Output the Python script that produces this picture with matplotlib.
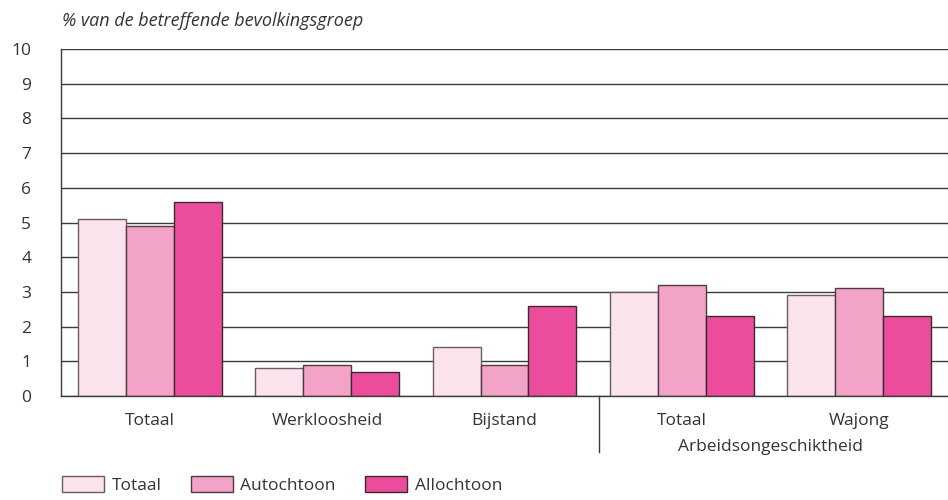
import matplotlib.pyplot as plt
import numpy as np
from matplotlib.patches import Patch

plt.rcParams["font.family"] = ["Open Sans", "DejaVu Sans"]

categories = ["Totaal", "Werkloosheid", "Bijstand", "Totaal", "Wajong"]
series_labels = ["Totaal", "Autochtoon", "Allochtoon"]
totaal = [5.1, 0.8, 1.4, 3.0, 2.9]
autochtoon = [4.9, 0.9, 0.9, 3.2, 3.1]
allochtoon = [5.6, 0.7, 2.6, 2.3, 2.3]
y_ticks = list(range(0, 11))
group_label = "Arbeidsongeschiktheid"
y_title = "% van de betreffende bevolkingsgroep"

COLORS = ["#fbe3ee", "#f2a3c7", "#ec4c9c"]
EDGES = ["#6e5a63", "#4d3a42", "#3a2a30"]
LINE = "#3c3c3c"
TEXT = "#333333"
FS = 12.5

fig = plt.figure(figsize=(9.48, 5.0), dpi=100)
ax = fig.add_axes([61 / 948, 1 - 396 / 500, 887 / 948, 347 / 500])

x = np.arange(len(categories))
width = 0.27
for i, values in enumerate([totaal, autochtoon, allochtoon]):
    ax.bar(
        x + (i - 1) * width,
        values,
        width,
        color=COLORS[i],
        edgecolor=EDGES[i],
        linewidth=1.0,
        zorder=3,
    )

ax.set_xlim(-0.5, len(categories) - 0.5)
ax.set_ylim(0, 10)
ax.set_yticks(y_ticks)
ax.set_yticklabels([str(t) for t in y_ticks], fontsize=FS, color=TEXT)
ax.tick_params(axis="y", length=0, pad=21.5)
ax.set_xticks(x)
ax.set_xticklabels(categories, fontsize=FS, color=TEXT)
ax.tick_params(axis="x", length=0, pad=12.5)
ax.yaxis.grid(True, color=LINE, linewidth=1.0, zorder=0)
ax.set_axisbelow(True)
for side in ("top", "right"):
    ax.spines[side].set_visible(False)
for side in ("left", "bottom"):
    ax.spines[side].set_color(LINE)
    ax.spines[side].set_linewidth(1.0)
    ax.spines[side].set_zorder(4)

# separator and group label under the last two categories
ax.plot([2.53, 2.53], [0, -1.6], color=LINE, linewidth=1.0, clip_on=False)
ax.text(3.5, -1.46, group_label, ha="center", va="center", fontsize=FS,
        color=TEXT, transform=ax.transData)

fig.text(62 / 948, 1 - 21 / 500, y_title, ha="left", va="center",
         fontsize=13, style="italic", color=TEXT)

handles = [Patch(facecolor=c, edgecolor=e, linewidth=1.0) for c, e in zip(COLORS, EDGES)]
fig.legend(
    handles,
    series_labels,
    loc="center left",
    bbox_to_anchor=(62 / 948, 1 - 485 / 500),
    ncol=3,
    frameon=False,
    borderpad=0,
    borderaxespad=0,
    handlelength=2.4,
    handleheight=1.05,
    columnspacing=1.7,
    handletextpad=0.45,
    fontsize=FS,
    labelcolor=TEXT,
)

fig.savefig("out.png", dpi=100)
